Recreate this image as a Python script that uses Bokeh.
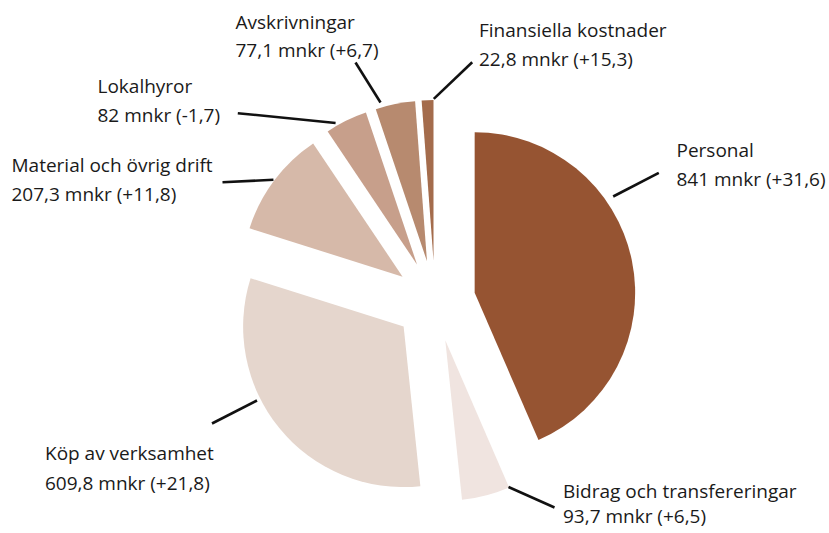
import numpy as np
from bokeh.plotting import figure
from bokeh.models import Range1d, ColumnDataSource
from bokeh.core.properties import value
from bokeh.embed import file_html
from bokeh.resources import INLINE

# ---- data ----
categories = ["Personal", "Bidrag och transfereringar", "Köp av verksamhet",
              "Material och övrig drift", "Lokalhyror", "Avskrivningar",
              "Finansiella kostnader"]
amounts = [841, 93.7, 609.8, 207.3, 82, 77.1, 22.8]          # mnkr
changes = [31.6, 6.5, 21.8, 11.8, -1.7, 6.7, 15.3]           # change, mnkr
colors = ["#965432", "#f0e4e0", "#e5d6cd", "#d6b9a9", "#c79f8b", "#b78a6f", "#a46c4c"]

# ---- layout (screen pixels, y down) ----
W, H = 829, 533
CX, CY = 434.5, 300.5
R = 160.5
EXPLODE = 40.5
conn_angle = [55.2, 156.7, 243.25, 306.9, 330.1, 343.7, 0.1]   # deg, clockwise from top
conn_dist = [168.7, 159.8, 164.2, 161.5, 163.5, 165.5, 161.7]
conn_end = [(658.3, 172.3), (554, 507), (211.5, 423), (222, 181.7),
            (237.3, 112.7), (355, 62), (471.7, 61.7)]
TEXT_SHIFT = 7.5
text_pos = [(676, 157.3, 185.7), (562.5, 498.3, 523), (44.5, 460, 490),
            (11, 171.7, 201), (97, 93.3, 121.7), (235, 29, 57), (478.5, 36.7, 65.7)]
FONT = "Open Sans"
FONT_SIZE = "19px"

# ---- geometry from data ----
vals = np.array(amounts, dtype=float)
frac = vals / vals.sum()
cum_end = np.cumsum(frac) * 2 * np.pi
cum_start = cum_end - frac * 2 * np.pi
mid = (cum_start + cum_end) / 2

cx = CX + EXPLODE * np.sin(mid)
cy = -(CY) + EXPLODE * np.cos(mid)
start_angle = np.pi / 2 - cum_start
end_angle = np.pi / 2 - cum_end

src = ColumnDataSource(dict(x=cx, y=cy, sa=start_angle, ea=end_angle, color=colors))

p = figure(width=W, height=H, output_backend="svg", toolbar_location=None,
           x_range=Range1d(0, W), y_range=Range1d(-H, 0),
           min_border=0, match_aspect=False)
p.axis.visible = False
p.grid.visible = False
p.outline_line_color = None
p.background_fill_color = "white"
p.border_fill_color = "white"

p.wedge(x="x", y="y", radius=R, start_angle="sa", end_angle="ea",
        direction="clock", fill_color="color", line_color=None, source=src)

# leader lines
a = np.radians(conn_angle)
dist = np.array(conn_dist)
x0 = cx + dist * np.sin(a)
y0 = cy + dist * np.cos(a)
x1 = [e[0] for e in conn_end]
y1 = [-e[1] for e in conn_end]
p.segment(x0=x0, y0=y0, x1=x1, y1=y1, line_color="#111111", line_width=2.6)

def fmt(v):
    return f"{v:g}".replace(".", ",")

def fmt_change(v):
    return f"{v:+g}".replace(".", ",")

tx, ty, tt = [], [], []
for i, cat in enumerate(categories):
    x, b1, b2 = text_pos[i]
    tx += [x, x]
    ty += [-(b1 - TEXT_SHIFT), -(b2 - TEXT_SHIFT)]
    tt += [cat, f"{fmt(amounts[i])} mnkr ({fmt_change(changes[i])})"]

p.text(x=tx, y=ty, text=tt, text_font=value(FONT), text_font_size=FONT_SIZE,
       text_align="left", text_baseline="alphabetic", text_color="#1a1a1a")

open("out.html", "w").write(file_html(p, INLINE))
